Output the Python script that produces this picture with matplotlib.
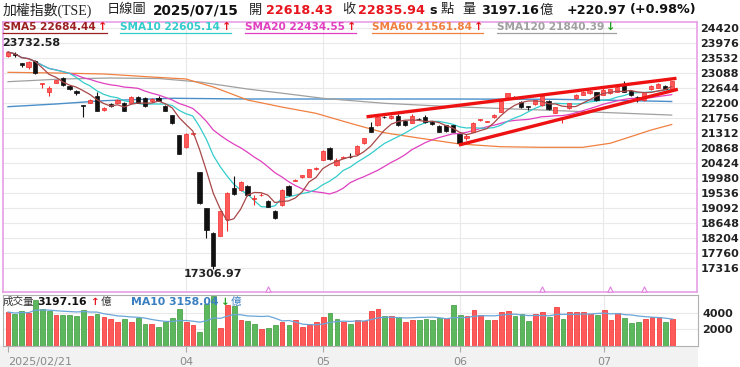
import numpy as np
import pandas as pd
import matplotlib
matplotlib.use('Agg')
import matplotlib.pyplot as plt
import matplotlib.transforms as mtransforms
from matplotlib.lines import Line2D

# ---- daily candles, TAIEX 2025/02/21 .. 2025/07/15 ----
opens = [23570, 23640, 23370, 23255, 23440, 22760, 22515, 22800, 22925, 22700,
         22560, 22130, 22210, 22400, 22000, 22170, 22210, 22200, 22210, 22365,
         22350, 22265, 22350, 22110, 21830, 21250, 20890, 21285, 20170, 19090,
         18350, 18270, 18765, 19680, 19630, 19745, 19370, 19470, 19315, 19020,
         19190, 19745, 19900, 20005, 20020, 20250, 20515, 20860, 20370, 20580,
         20600, 20690, 21010, 21500, 21545, 21790, 21745, 21810, 21675, 21615,
         21730, 21790, 21645, 21520, 21540, 21540, 21280, 21155, 21350, 21690,
         21645, 21775, 21940, 22385, 22380, 22235, 22100, 22170, 22140, 22265,
         21910, 21740, 22040, 22335, 22445, 22485, 22515, 22445, 22485, 22530,
         22730, 22560, 22370, 22285, 22600, 22640, 22700, 22618.43]
highs = [23732.58, 23690, 23390, 23445, 23460, 22800, 22700, 22890, 22960, 22720,
         22580, 22140, 22320, 22530, 22080, 22190, 22320, 22220, 22400, 22390,
         22370, 22330, 22400, 22130, 21850, 21260, 21320, 21330, 20170, 19100,
         18400, 19020, 19560, 20040, 19900, 19770, 19480, 19530, 19340, 19040,
         19650, 19770, 19960, 20080, 20260, 20300, 20800, 20900, 20560, 20620,
         20720, 20950, 21170, 21645, 21790, 21820, 21840, 21860, 21690, 21880,
         21760, 21830, 21670, 21540, 21560, 21560, 21290, 21280, 21630, 21720,
         21680, 21870, 22280, 22500, 22400, 22250, 22110, 22300, 22420, 22290,
         22090, 21780, 22210, 22450, 22540, 22580, 22530, 22660, 22620, 22700,
         22855, 22580, 22400, 22530, 22720, 22780, 22730, 22850]
lows = [23550, 23560, 23250, 23190, 23060, 22630, 22405, 22780, 22700, 22580,
        22440, 21790, 22190, 21960, 21950, 22090, 22200, 21950, 22190, 22190,
        22090, 22240, 22250, 21950, 21570, 20680, 20870, 21250, 19230, 18200,
        17306.97, 18260, 18430, 19490, 19600, 19460, 19190, 19440, 19120, 18780,
        19170, 19460, 19880, 19990, 20000, 20230, 20500, 20500, 20350, 20560,
        20570, 20670, 20990, 21330, 21530, 21740, 21720, 21520, 21530, 21600,
        21690, 21620, 21560, 21330, 21330, 21340, 20990, 21100, 21340, 21660,
        21630, 21760, 21920, 22370, 22340, 22060, 21980, 22150, 22120, 21990,
        21890, 21600, 22020, 22320, 22430, 22470, 22270, 22430, 22470, 22510,
        22510, 22410, 22235, 22270, 22590, 22630, 22600, 22600]
closes = [23700, 23600, 23310, 23410, 23075, 22790, 22630, 22875, 22730, 22600,
          22485, 22110, 22300, 21970, 22040, 22110, 22300, 21970, 22380, 22210,
          22110, 22305, 22270, 21970, 21600, 20695, 21290, 21300, 19233, 18460,
          17392, 19001, 19529, 19510, 19875, 19480, 19390, 19490, 19140, 18795,
          19630, 19480, 19925, 20060, 20240, 20280, 20790, 20540, 20520, 20600,
          20590, 20925, 21150, 21350, 21775, 21770, 21810, 21540, 21550, 21810,
          21710, 21645, 21580, 21350, 21370, 21355, 21005, 21225, 21615, 21700,
          21665, 21845, 22265, 22480, 22360, 22090, 22080, 22285, 22400, 22010,
          22070, 21755, 22190, 22435, 22520, 22560, 22285, 22590, 22605, 22680,
          22530, 22435, 22360, 22515, 22700, 22760, 22614.97, 22835.94]
volumes = [4085, 3844, 4169, 3928, 5531, 4410, 4242, 3760, 3687, 3760,
           3603, 4326, 3603, 3844, 3519, 3205, 2880, 3278, 2880, 3362,
           2639, 2639, 2314, 2880, 3362, 4410, 2880, 2482, 1675, 5085,
           6013, 2157, 4965, 4808, 3085, 2964, 2639, 2073, 2157, 2482,
           2880, 2555, 3085, 2314, 2555, 2880, 3482, 4001, 3205, 2880,
           2639, 3085, 2964, 4169, 4483, 3603, 3603, 3446, 2880, 3085,
           3121, 3205, 3121, 3362, 3362, 4892, 3687, 3603, 4290, 3760,
           3085, 3085, 4085, 4169, 3603, 3844, 3037, 3844, 4085, 3482,
           4724, 3205, 4085, 4085, 4085, 3844, 3687, 4290, 3121, 3928,
           3362, 2796, 2880, 3278, 3446, 3446, 2880, 3197.16]

# trading days (TWSE holidays removed)
holidays = ['2025-02-28', '2025-04-03', '2025-04-04', '2025-05-01', '2025-05-30']
dates = pd.bdate_range('2025-02-21', '2025-07-15')
dates = dates[~dates.isin(pd.to_datetime(holidays))]

sma60_idx = [0, 7, 14, 21, 26, 30, 35, 40, 45, 50, 55, 60, 66, 72, 78, 84, 88, 91, 94, 97]
sma60_val = [23103, 23083, 23053, 22965, 22906, 22670, 22286, 22079, 21893, 21600,
             21320, 21164, 20987, 20907, 20889, 20889, 21008, 21202, 21400, 21562]
sma120_idx = [0, 8, 15, 22, 28, 35, 41, 46, 55, 65, 72, 78, 88, 97]
sma120_val = [22826, 22906, 22935, 22920, 22817, 22610, 22463, 22336, 22188, 22088,
              22035, 21990, 21911, 21840]
sma240_idx = [0, 7, 14, 24, 35, 50, 65, 80, 90, 97]
sma240_val = [22088, 22168, 22265, 22336, 22315, 22315, 22315, 22306, 22271, 22241]

# wedge drawn on the chart
trend_upper_x = [52.4, 97.7]
trend_upper_y = [21790, 22925]
trend_lower_x = [65.9, 97.9]
trend_lower_y = [20957, 22602]

event_idx = [38, 78, 88, 93]

price_ticks = [17316 + 444 * k for k in range(17)]
vol_ticks = [2000, 4000]

legend_names = ['SMA5', 'SMA10', 'SMA20', 'SMA60', 'SMA120']
legend_vals = ['22684.44', '22605.14', '22434.55', '21561.84', '21840.39']
legend_up = [True, True, True, True, False]
vol_ma_label = '3158.04'

# ---- derived ----
n = len(closes)
x = np.arange(n)
o = np.array(opens); c = np.array(closes); h = np.array(highs); l = np.array(lows)
s = pd.Series(c)
sma5 = s.rolling(5, min_periods=1).mean()
sma10 = s.rolling(10, min_periods=1).mean()
sma20 = s.rolling(20, min_periods=1).mean()
vol_ma10 = pd.Series(volumes).rolling(10, min_periods=1).mean()

up = c >= o
vol_up = np.r_[up[0], c[1:] >= c[:-1]]

month_idx = [int(np.argmax(dates.month == m)) for m in [4, 5, 6, 7]]
month_lbl = ['%02d' % m for m in [4, 5, 6, 7]]

RED = '#ff5a5a'
RED_EDGE = '#f02a2a'
GREEN = '#5cb85c'
GREEN_EDGE = '#3c963c'
ma_colors = ['#a84848', '#33cccc', '#e040c0', '#f08040', '#a0a0a0']

W, H = 740, 367
fig = plt.figure(figsize=(W / 100, H / 100), dpi=100)
fig.patch.set_facecolor('white')

# light strip behind the date axis
fig.add_artist(plt.Rectangle((0, 0), 698 / W, 21 / H, transform=fig.transFigure,
                             facecolor='#f2f2f2', edgecolor='none', zorder=0))

ax = fig.add_axes([3 / W, 1 - 292 / H, 694 / W, 270 / H])
axv = fig.add_axes([3 / W, 1 - 346 / H, 695 / W, 51 / H])

# ---- price panel ----
ax.set_xlim(-0.73, 100.7)
ax.set_ylim(16618, 24588)
ax.set_axisbelow(True)
ax.set_yticks(price_ticks)
ax.yaxis.tick_right()
ax.tick_params(axis='y', length=0, pad=2.5, labelsize=8, labelcolor='#222222')
for t in ax.get_yticklabels():
    t.set_fontweight('bold')
ax.set_xticks(month_idx)
ax.tick_params(axis='x', length=0, labelbottom=False)
ax.grid(True, color='#e9e9e9', lw=0.8)
for sp in ax.spines.values():
    sp.set_color('#e6a0e6')
    sp.set_linewidth(1.2)

body_h = np.maximum(np.abs(c - o), 25)
body_b = np.minimum(o, c)
ax.vlines(x, l, h, colors=np.where(up, RED_EDGE, '#111111'), lw=0.8, zorder=2)
ax.bar(x, body_h, bottom=body_b, width=0.62,
       color=np.where(up, RED, '#111111'),
       edgecolor=np.where(up, RED_EDGE, '#111111'), linewidth=0.5, zorder=3)

ax.plot(sma240_idx, sma240_val, color='#4a8fca', lw=1.0, zorder=1.5)
ax.plot(sma120_idx, sma120_val, color=ma_colors[4], lw=0.9, zorder=1.5)
ax.plot(sma60_idx, sma60_val, color=ma_colors[3], lw=0.9, zorder=1.5)
ax.plot(x, sma20, color=ma_colors[2], lw=0.9, zorder=1.6)
ax.plot(x, sma10, color=ma_colors[1], lw=0.9, zorder=1.7)
ax.plot(x, sma5, color=ma_colors[0], lw=0.9, zorder=4)

ax.plot(trend_upper_x, trend_upper_y, color='#ee1111', lw=2.4, zorder=5,
        solid_capstyle='butt')
ax.plot(trend_lower_x, trend_lower_y, color='#ee1111', lw=2.4, zorder=5,
        solid_capstyle='butt')

blend = mtransforms.blended_transform_factory(ax.transData, ax.transAxes)
ax.scatter(event_idx, [0.012] * len(event_idx), transform=blend, marker='^', s=14,
           facecolor='white', edgecolor='#e080e0', lw=0.8, zorder=6, clip_on=False)

imax = int(np.argmax(h))
imin = int(np.argmin(l))
ax.annotate('%.2f' % h[imax], (imax, h[imax]), xytext=(-4, 2), textcoords='offset points',
            ha='left', va='bottom', fontsize=8, fontweight='bold', color='#222222')
ax.annotate('%.2f' % l[imin], (imin, l[imin]), xytext=(0, -0.5), textcoords='offset points',
            ha='center', va='top', fontsize=8, fontweight='bold', color='#222222')

# ---- volume panel ----
axv.set_xlim(-0.73, 100.7)
axv.set_ylim(0, 6133)
axv.set_axisbelow(True)
axv.bar(x, volumes, width=0.7, color=np.where(vol_up, RED, GREEN),
        edgecolor=np.where(vol_up, RED_EDGE, GREEN_EDGE), linewidth=0.5, zorder=2)
axv.plot(x, vol_ma10, color='#6aa6d8', lw=0.9, zorder=3)
axv.set_yticks(vol_ticks)
axv.yaxis.tick_right()
axv.tick_params(axis='y', length=0, pad=3, labelsize=8, labelcolor='#222222')
for t in axv.get_yticklabels():
    t.set_fontweight('bold')
axv.grid(axis='y', color='#e9e9e9', lw=0.8)
for m in month_idx:
    axv.axvline(m, color='#e9e9e9', lw=0.8, zorder=0)
axv.set_xticks([0] + month_idx)
axv.set_xticklabels([dates[0].strftime('%Y/%m/%d')] + month_lbl)
axv.tick_params(axis='x', length=4, width=0.8, color='#aaaaaa', pad=4,
                labelsize=8, labelcolor='#8a8a8a')
axv.get_xticklabels()[0].set_ha('left')
axv.get_xticklabels()[0].set_x(-0.45)
for sp in axv.spines.values():
    sp.set_color('#b0b0b0')
    sp.set_linewidth(0.8)

# ---- header texts ----
CJK = ['Noto Sans CJK TC', 'DejaVu Sans']
SERIF_CJK = ['Liberation Serif', 'Noto Sans CJK TC']


def put(px, py, txt, color='#222222', size=9.2, weight='normal', family=None):
    kw = dict(color=color, fontsize=size, fontweight=weight, ha='left', va='center')
    if family:
        kw['family'] = family
    return fig.text(px / W, 1 - py / H, txt, **kw)


put(3, 10, '加權指數(TSE)', size=10, family=SERIF_CJK)
put(107, 10, '日線圖', size=9.5, family=CJK)
put(153, 10, dates[-1].strftime('%Y/%m/%d'), '#111111', 9.8, 'bold')
put(249, 10, '開', size=9.5, family=CJK)
put(266, 10, '%.2f' % o[-1], '#e8141e', 9.2, 'bold')
put(342, 10, '收', size=9.5, family=CJK)
put(358, 10, '%.2f' % c[-1], '#e8141e', 9.2, 'bold')
put(429, 10, 's', '#111111', 9.2, 'bold')
put(441, 10, '點', size=9.5, family=CJK)
put(462, 10, '量', size=9.5, family=CJK)
put(481, 10, '%.2f' % volumes[-1], '#111111', 9.2, 'bold')
put(540, 10, '億', size=9.5, family=CJK)
chg = c[-1] - c[-2]
put(567, 10, '%+.2f' % chg, '#111111', 9.2, 'bold')
put(630, 10, '(%+.2f%%)' % (chg / c[-2] * 100), '#111111', 9.2, 'bold')

# SMA legend row with underline
fig.canvas.draw()
renderer = fig.canvas.get_renderer()
leg_x = [3, 120, 245, 372, 497]
for px, name, val, isup, col in zip(leg_x, legend_names, legend_vals, legend_up, ma_colors):
    tcol = '#9c2020' if name == 'SMA5' else col
    t = put(px, 27, '%s %s' % (name, val), tcol, 7.6, 'bold')
    bb = t.get_window_extent(renderer)
    a = fig.text((bb.x1 + 2) / W, 1 - 27 / H, '↑' if isup else '↓',
                 color='#e8141e' if isup else '#22a022', fontsize=8, fontweight='bold',
                 ha='left', va='center')
    ab = a.get_window_extent(renderer)
    fig.add_artist(Line2D([bb.x0 / W, ab.x1 / W], [1 - 33.3 / H] * 2,
                          transform=fig.transFigure, color=tcol, lw=0.9))

# volume row texts, laid out left to right
row = [('成交量', '#333333', 7.6, 'normal', CJK, 3),
       ('%.2f' % volumes[-1], '#111111', 7.8, 'bold', None, 4),
       ('↑', '#e8141e', 7.5, 'bold', None, 1),
       ('億', '#333333', 7.6, 'normal', CJK, 20),
       ('MA10 ' + vol_ma_label, '#3a7fc0', 7.8, 'bold', None, 2),
       ('↓', '#22a022', 7.5, 'bold', None, 1),
       ('億', '#3a7fc0', 7.6, 'normal', CJK, 0)]
cur = 3
for txt, col, sz, wt, fam, gap in row:
    t = put(cur, 302, txt, col, sz, wt, fam)
    cur = t.get_window_extent(renderer).x1 + gap

fig.savefig('out.png', dpi=100)
